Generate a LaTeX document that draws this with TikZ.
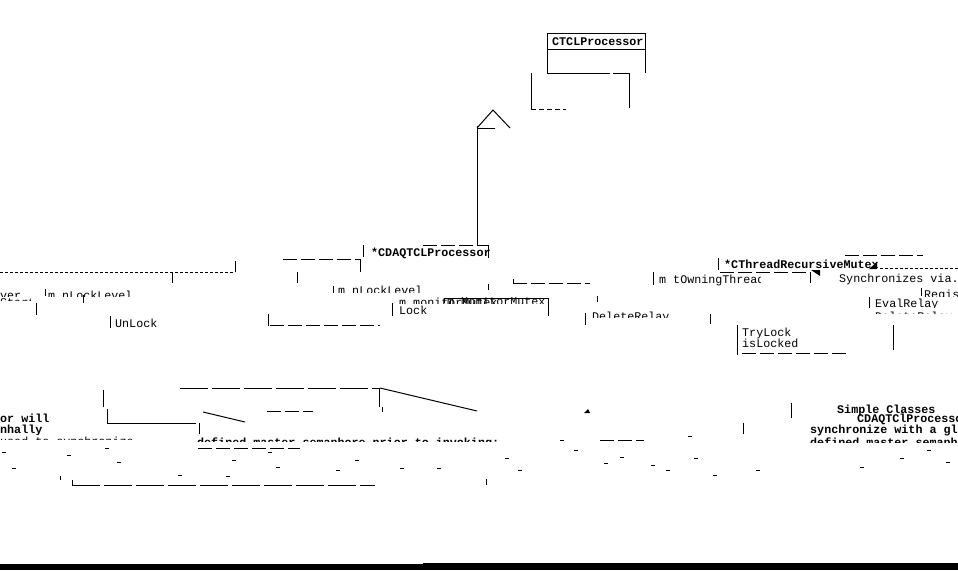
\documentclass[tikz,border=0pt]{standalone}
\usepackage{fontspec}
\setmainfont{Liberation Mono}
\begin{document}
\begin{tikzpicture}[x=1pt,y=-1pt,
  lbl/.style={inner sep=0pt, anchor=base west, font=\fontsize{11.7}{13}\selectfont},
  blbl/.style={inner sep=0pt, anchor=base west, font=\fontsize{11.7}{13}\selectfont\bfseries},
  ln/.style={line width=1pt},
  dsh/.style={line width=1pt, dash pattern=on 5pt off 3pt},
  fine/.style={line width=1pt, dash pattern=on 3pt off 2pt},
  ldsh/.style={line width=1pt, dash pattern=on 28pt off 4pt},
  mdsh/.style={line width=1pt, dash pattern=on 14pt off 4pt}]
\useasboundingbox (0,0) rectangle (958,570);

% ---- CTCLProcessor class box
\draw[ln] (547,73) -- (547,33) -- (645,33) -- (645,73);
\draw[ln] (547,49) -- (645,49);
\draw[ln] (547,73) -- (610,73);
\draw[ln] (613,73) -- (629,73) -- (629,108);
\node[blbl] (ctcl) at (552,45) {CTCLProcessor};
\draw[ln] (531,73) -- (531,109);
\draw[dsh] (531,109) -- (566,109);

% ---- inheritance triangle and its line
\draw[ln] (477,128) -- (493,110) -- (510,128);
\draw[ln] (478,128) -- (495,128);
\draw[ln] (477,126) -- (477,245);

% ---- CDAQTCLProcessor
\node[blbl] (cdaq) at (371,256) {*CDAQTCLProcessor};
\draw[ln] (363,245) -- (363,257);
\draw[mdsh] (423,245) -- (488,245);
\draw[ln] (488,245) -- (488,258);
\draw[mdsh] (283,259) -- (360,259);
\draw[ln] (360,259) -- (360,272);

% ---- left dotted association line
\draw[fine] (0,272) -- (235,272);
\draw[ln] (235,261) -- (235,272);
\draw[ln] (172,272) -- (172,283);
\draw[ln] (297,272) -- (297,283);
\draw[ln] (83,295) -- (83,303);
\draw[ln] (36,303) -- (36,315);
\draw[ln] (45,289) -- (45,296);

% ---- attribute / operation fragments
\begin{scope}
  \clip (0,290) rectangle (150,296);
  \node[lbl] (ver) at (0,299) {ver};
  \node[lbl] (lvla) at (48,299) {m nLockLevel};
\end{scope}
\begin{scope}
  \clip (0,297.5) rectangle (30,300.5);
  \node[lbl] (strt) at (0,306) {Start};
\end{scope}
\draw[ln] (110,316) -- (110,328);
\node[lbl] (unlock) at (115,327) {UnLock};
\draw[ln] (268,314) -- (268,326);
\draw[mdsh] (270,325) -- (380,325);

\draw[ln] (333,286) -- (333,293);
\begin{scope}
  \clip (330,284) rectangle (440,292.5);
  \node[lbl] (lvlb) at (338,294) {m nLockLevel};
\end{scope}

\draw[ln] (392,303) -- (392,316);
\begin{scope}
  \clip (395,297) rectangle (550,303);
  \node[lbl] (mona) at (399,306) {m\_monitorMutex};
  \node[lbl] (monb) at (447,305) {m\_MonitorMutex};
\end{scope}
\draw[ln] (444,298) -- (548,298) -- (548,316);
\draw[ln] (444,298) -- (444,303);
\node[lbl] (lock) at (399,314) {Lock};

\draw[ln] (488,284) -- (488,290);
\draw[mdsh] (513,283) -- (590,283);
\draw[ln] (513,279) -- (513,283);
\draw[ln] (597,296) -- (597,302);
\draw[ln] (585,313) -- (585,325);
\begin{scope}
  \clip (588,309.5) rectangle (680,317.5);
  \node[lbl] (delr) at (592,320) {DeleteRelay};
\end{scope}
\draw[ln] (710,314) -- (710,324);

% ---- CThreadRecursiveMutex
\draw[ln] (718,258) -- (718,270);
\node[blbl] (ctrm) at (724,268) {*CThreadRecursiveMutex};
\draw[mdsh] (845,255) -- (923,255);
\draw[fine] (880,268) -- (958,268);
\fill (869,269) -- (877,262) -- (877,269) -- cycle;
\fill (811,270) -- (820,270) -- (820,276) -- cycle;
\draw[mdsh] (720,272) -- (810,272);
\draw[ln] (810,272) -- (810,283);
\draw[ln] (653,272) -- (653,285);
\begin{scope}
  \clip (655,270) rectangle (760,285);
  \node[lbl] (owner) at (659,283) {m tOwningThread};
\end{scope}
\node[lbl] (sync) at (839,282) {Synchronizes via.};

\draw[ln] (921,288) -- (921,296);
\begin{scope}
  \clip (922,289) rectangle (958,296);
  \node[lbl] (regis) at (924,298) {Regis};
\end{scope}
\draw[ln] (869,297) -- (869,308);
\begin{scope}
  \clip (872,298) rectangle (958,307);
  \node[lbl] (eval) at (875,307) {EvalRelay};
\end{scope}
\begin{scope}
  \clip (872,309.5) rectangle (958,313.5);
  \node[lbl] (delr2) at (875,320) {DeleteRelay};
\end{scope}

% ---- TryLock / isLocked compartment
\draw[ln] (737,325) -- (737,355);
\draw[mdsh] (742,353) -- (846,353);
\draw[ln] (893,325) -- (893,350);
\node[lbl] (try) at (742,336) {TryLock};
\node[lbl] (isl) at (742,347) {isLocked};

% ---- lower note connectors
\draw[ldsh] (180,388) -- (380,388);
\draw[ln] (379,388) -- (379,407);
\draw[ln] (382,407) -- (382,412);
\draw[ln] (380,388) -- (477,411);
\draw[ln] (103,390) -- (103,407);
\draw[ln] (107,409) -- (107,423) -- (196,423);
\draw[ln] (199,423) -- (199,434);
\draw[ln] (203,412) -- (245,422);
\draw[mdsh] (267,411) -- (313,411);
\fill (584,413) -- (588,409) -- (590,413) -- cycle;
\draw[ln] (791,403) -- (791,418);
\draw[ln] (743,423) -- (743,434);

% ---- note texts
\node[blbl] (nwill) at (0,422) {or will};
\begin{scope}
  \clip (0,424) rectangle (120,434);
  \node[blbl] (nglob) at (0,433) {nhally};
\end{scope}
\begin{scope}
  \clip (0,436) rectangle (150,439.5);
  \node[lbl] (nused) at (0,445) {used to synchronize};
\end{scope}
\begin{scope}
  \clip (190,436) rectangle (520,441.5);
  \node[blbl] (ndef) at (197,446) {defined master semaphore prior to invoking;};
\end{scope}
\begin{scope}
  \clip (800,403.5) rectangle (958,415);
  \node[blbl] (simple) at (837,413) {Simple Classes};
\end{scope}
\begin{scope}
  \clip (800,412) rectangle (958,424);
  \node[blbl] (cdaq2) at (857,422) {CDAQTClProcessor};
\end{scope}
\node[blbl] (syncw) at (810,433) {synchronize with a gl};
\begin{scope}
  \clip (800,437.5) rectangle (958,442);
  \node[blbl] (ndef2) at (810,446) {defined master semaph};
\end{scope}

% ---- scattered fragments
\foreach \x/\y in {2/452,12/468,67/455,105/448,117/462,178/475,226/476,232/460,
  276/467,268/452,336/470,355/460,400/468,437/468,505/458,518/470,574/450,
  604/463,620/457,651/465,666/470,694/458,713/475,756/470,860/467,900/458,
  927/450,946/462,560/440,640/440,688/436}
  \draw[line width=1pt] (\x,\y) -- (\x+4,\y);
\draw[mdsh] (198,448) -- (300,448);
\draw[mdsh] (600,440) -- (640,440);

% ---- lower edge
\draw[ln] (60,476) -- (60,480);
\draw[ln] (72,480) -- (72,485);
\draw[ldsh] (72,485) -- (375,485);
\draw[ln] (486,479) -- (486,485);
\fill (0,564) rectangle (423,570);
\fill (423,563) rectangle (958,570);
\end{tikzpicture}
\end{document}
